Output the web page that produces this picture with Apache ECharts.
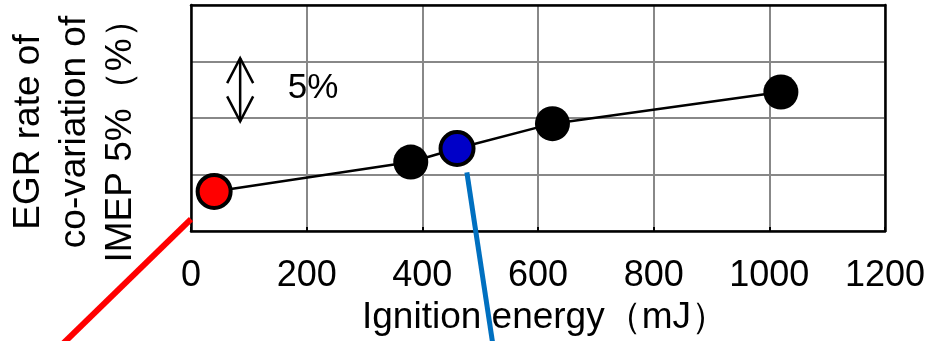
<!DOCTYPE html>
<html><head><meta charset="utf-8">
<script src="https://cdn.jsdelivr.net/npm/echarts@6/dist/echarts.min.js"></script>
<style>html,body{margin:0;padding:0;background:#fff}#c{width:937px;height:341px}</style>
</head><body><div id="c"></div>
<script>
// ---- data ----
const xTickLabels = ['0','200','400','600','800','1000','1200'];
const energy = [40, 380, 460, 625, 1020];          // Ignition energy (mJ)
const egrRate = [3.5, 6.1, 7.3, 9.5, 12.3];        // EGR rate (%), relative
const pointKind = ['red', 'black', 'blue', 'black', 'black'];
const xAxisName = 'Ignition energy（mJ）';
const yAxisName = 'EGR rate of\nco-variation of\nIMEP 5%（%）';
const scaleLabel = '5%';
// annotation anchors in data space
const scaleArrow = [85, 15.3, 9.7];               // x, top y, bottom y
const scaleLabelAt = [211, 12.6];
const redCallout = [[0, 1.05], [-230, -10.4]];
const blueCallout = [[477, 5.18], [523, -10.4]];

const FONT = '"Liberation Sans", Arial, sans-serif';
const chart = echarts.init(document.getElementById('c'), null, {renderer: 'canvas'});

function pts(kind) {
  const out = [];
  energy.forEach((e, i) => { if (pointKind[i] === kind) out.push([e, egrRate[i]]); });
  return out;
}

chart.setOption({
  animation: false,
  grid: {left: 191, top: 5, right: 52, bottom: 109, containLabel: false},
  xAxis: [{
    type: 'value', min: 0, max: 1200, interval: 200,
    axisLine: {show: true, onZero: false, lineStyle: {color: '#000', width: 2.5}},
    axisTick: {show: true, inside: true, length: 4, lineStyle: {color: '#000', width: 2}},
    axisLabel: {fontSize: 36, color: '#000', fontFamily: FONT, margin: 27,
      formatter: (v) => xTickLabels[Math.round(v / 200)] },
    splitLine: {show: true, lineStyle: {color: '#888', width: 2}},
    name: xAxisName, nameLocation: 'middle', nameGap: 68,
    nameTextStyle: {fontSize: 37, color: '#000', fontFamily: FONT, padding: [0, 0, 0, 14]}
  }, {
    type: 'value', position: 'top', min: 0, max: 1200, interval: 200,
    axisLine: {show: true, onZero: false, lineStyle: {color: '#000', width: 2.5}},
    axisTick: {show: false}, axisLabel: {show: false}, splitLine: {show: false}
  }],
  yAxis: [{
    type: 'value', min: 0, max: 20, interval: 5,
    axisLine: {show: true, onZero: false, lineStyle: {color: '#000', width: 2.5}},
    axisTick: {show: false}, axisLabel: {show: false},
    splitLine: {show: true, lineStyle: {color: '#888', width: 2}}
  }, {
    type: 'value', position: 'right', min: 0, max: 20, interval: 5,
    axisLine: {show: true, onZero: false, lineStyle: {color: '#000', width: 2.5}},
    axisTick: {show: false}, axisLabel: {show: false}, splitLine: {show: false}
  }],
  series: [{
    type: 'line', data: energy.map((e, i) => [e, egrRate[i]]),
    showSymbol: false, symbol: 'none', lineStyle: {color: '#000', width: 2.5}, z: 2
  }, {
    type: 'scatter', data: pts('black'), symbolSize: 35,
    itemStyle: {color: '#000', opacity: 1}, z: 3
  }, {
    type: 'scatter', data: pts('red'), symbolSize: 33,
    itemStyle: {color: '#ff0000', borderColor: '#000', borderWidth: 4, opacity: 1}, z: 3
  }, {
    type: 'scatter', data: pts('blue'), symbolSize: 33,
    itemStyle: {color: '#0000c8', borderColor: '#000', borderWidth: 4, opacity: 1}, z: 3
  }]
});

const P = (v) => chart.convertToPixel({xAxisIndex: 0, yAxisIndex: 0}, v);
const aTop = P([scaleArrow[0], scaleArrow[1]]);
const aBot = P([scaleArrow[0], scaleArrow[2]]);
const lab = P(scaleLabelAt);
const r0 = P(redCallout[0]), r1 = P(redCallout[1]);
const b0 = P(blueCallout[0]), b1 = P(blueCallout[1]);
const W = 13, H = 25;
chart.setOption({
  graphic: [
    {type: 'text', x: 75, y: 132, rotation: Math.PI / 2, z: 10,
      style: {text: yAxisName, fontSize: 37, fontFamily: FONT, fill: '#000',
        align: 'center', verticalAlign: 'middle', lineHeight: 46}},
    {type: 'line', z: 10, shape: {x1: aTop[0], y1: aTop[1], x2: aBot[0], y2: aBot[1]},
      style: {stroke: '#000', lineWidth: 2.5}},
    {type: 'polyline', z: 10, shape: {points: [[aTop[0] - W, aTop[1] + H], [aTop[0], aTop[1]], [aTop[0] + W, aTop[1] + H]]},
      style: {stroke: '#000', lineWidth: 2.5, fill: null}},
    {type: 'polyline', z: 10, shape: {points: [[aBot[0] - W, aBot[1] - H], [aBot[0], aBot[1]], [aBot[0] + W, aBot[1] - H]]},
      style: {stroke: '#000', lineWidth: 2.5, fill: null}},
    {type: 'text', x: lab[0], y: lab[1], z: 10,
      style: {text: scaleLabel, fontSize: 35, fontFamily: FONT, fill: '#000', align: 'center', verticalAlign: 'middle'}},
    {type: 'line', z: 10, shape: {x1: r0[0], y1: r0[1], x2: r1[0], y2: r1[1]},
      style: {stroke: '#ff0000', lineWidth: 6}},
    {type: 'line', z: 10, shape: {x1: b0[0], y1: b0[1], x2: b1[0], y2: b1[1]},
      style: {stroke: '#0070c0', lineWidth: 5}}
  ]
});
</script>
</body></html>
